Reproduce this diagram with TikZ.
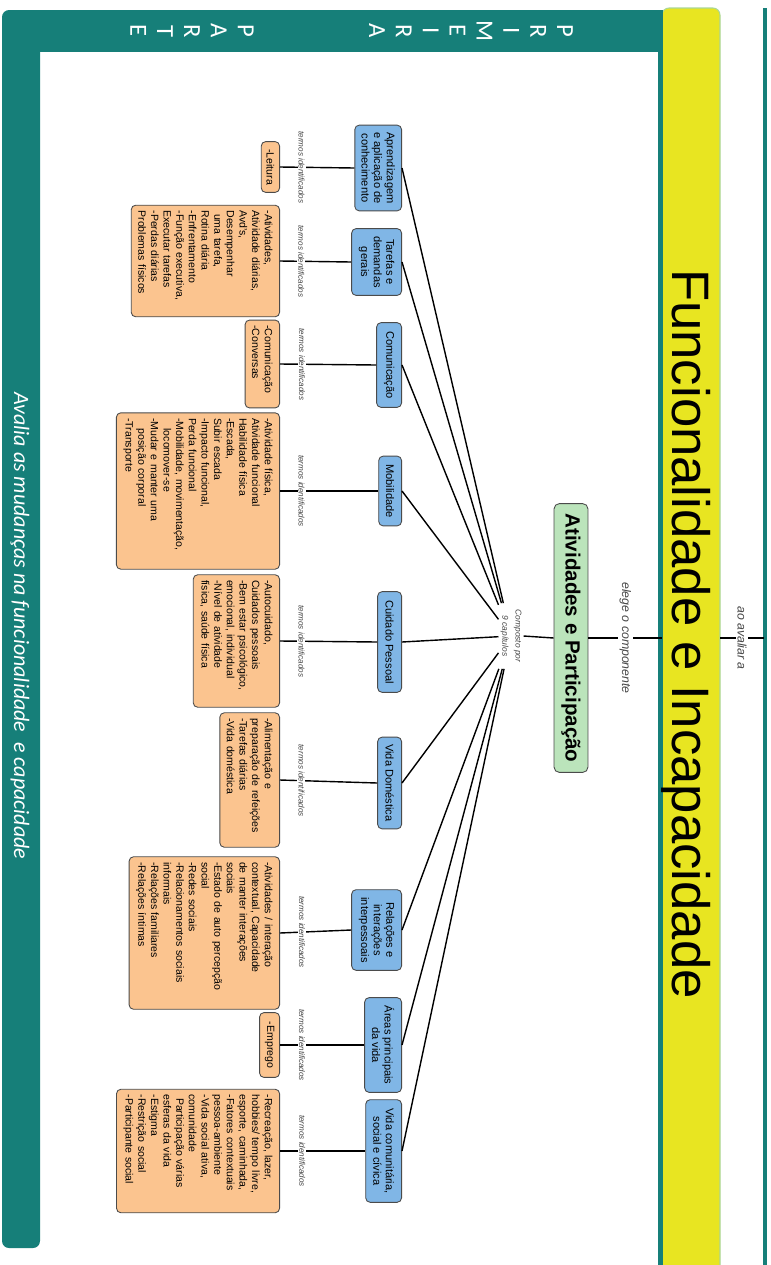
\documentclass[tikz,border=0pt]{standalone}
\usepackage{fontspec}
\setmainfont{Liberation Sans}
\newfontfamily\slidefont{Carlito}
\usepackage{tikz}
\definecolor{frameteal}{RGB}{22,127,121}
\definecolor{titleyellow}{RGB}{232,229,33}
\definecolor{titleedge}{RGB}{170,215,150}
\definecolor{catblue}{RGB}{128,182,230}
\definecolor{detorange}{RGB}{251,196,143}
\definecolor{maingreen}{RGB}{187,228,187}
\definecolor{boxedge}{RGB}{75,75,75}
\definecolor{lblgray}{RGB}{70,70,70}
\tikzset{
  conn/.style={line width=0.8pt,black},
  catbox/.style={draw=boxedge,fill=catblue,line width=0.5pt,rounded corners=2.5pt,
    align=center,anchor=north,inner sep=1.5pt,font=\fontsize{6.3}{7.2}\selectfont},
  detbox/.style={draw=boxedge,fill=detorange,line width=0.5pt,rounded corners=2.5pt,
    align=left,anchor=north,inner xsep=3pt,inner ysep=4pt,
    font=\fontsize{6}{7.2}\selectfont},
  mainbox/.style={draw=boxedge,fill=maingreen,line width=0.5pt,rounded corners=3pt,
    minimum width=153pt,minimum height=19.3pt,
    font=\fontsize{11.7}{14}\selectfont\bfseries},
  termlbl/.style={fill=white,inner sep=0.6pt,text=lblgray,
    font=\fontsize{4.6}{5.5}\selectfont\itshape},
  complbl/.style={align=center,inner sep=1pt,minimum width=37pt,text=lblgray,
    font=\fontsize{4.8}{7.5}\selectfont\itshape},
  linklbl/.style={fill=white,inner sep=1pt,text=lblgray,
    font=\fontsize{7}{8}\selectfont\itshape},
  titletext/.style={inner sep=0pt,font=\fontsize{30}{36}\selectfont},
  partlbl/.style={text=white,align=center,inner sep=0pt,
    font=\slidefont\fontsize{14}{15.3}\selectfont},
  avallbl/.style={text=white,inner sep=0pt,font=\slidefont\itshape\fontsize{12.5}{15}\selectfont},
}
\begin{document}
\begin{tikzpicture}[x=0.02cm,y=0.02cm,rotate=-90,transform shape]
  \useasboundingbox (0,0) rectangle (1265,771);
  % moldura
  \fill[frameteal,rounded corners=4pt] (10,2) rectangle (1248,40);
  \fill[frameteal] (10,20) rectangle (52,662);
  \filldraw[fill=titleyellow,draw=titleedge,line width=0.6pt,rounded corners=4pt]
    (1265,662) -- (8,662) -- (8,720) -- (1265,720);
  \fill[frameteal] (10,658) rectangle (1265,663);
  \fill[frameteal] (8,763) rectangle (1265,767);
  \node[partlbl] (prim) at (31,471) {P\\R\\I\\M\\E\\I\\R\\A};
  \node[partlbl] (parte) at (31,192) {P\\A\\R\\T\\E};
  \node[avallbl] (avalia) at (626,20) {Avalia as mudanças na funcionalidade\ \ e capacidade};
  \node[titletext,anchor=base] (title) at (634,672) {Funcionalidade e Incapacidade};
  \coordinate (ylwlow) at (638,662);
  \coordinate (ylwhigh) at (638,720);
  \coordinate (rim) at (638,764);

  \node[mainbox] (ativ) at (638,571) {Atividades e Participação};
  \node[complbl] (comp) at (636,511) {Composto por\\9 capítulos};

  \node[catbox,minimum width=48.8pt,minimum height=26.6pt] (cat1) at (168,402)
    {Aprendizagem\\e aplicação de\\conhecimento};
  \node[catbox,minimum width=38pt,minimum height=28.4pt] (cat2) at (262,402)
    {Tarefas e\\demandas\\gerais};
  \node[catbox,minimum width=48.2pt,minimum height=14.2pt] (cat3) at (365,402) {Comunicação};
  \node[catbox,minimum width=39.7pt,minimum height=13pt] (cat4) at (491,402) {Mobilidade};
  \node[catbox,minimum width=57.3pt,minimum height=13.6pt] (cat5) at (642,402) {Cuidado Pessoal};
  \node[catbox,minimum width=52.2pt,minimum height=13.6pt] (cat6) at (783,402) {Vida Doméstica};
  \node[catbox,minimum width=45.9pt,minimum height=28.4pt] (cat7) at (930,402)
    {Relações e\\interações\\interpessoais};
  \node[catbox,minimum width=53.9pt,minimum height=21pt] (cat8) at (1045,402)
    {Áreas principais\\da vida};
  \node[catbox,minimum width=58.4pt,minimum height=20.4pt] (cat9) at (1151,402)
    {Vida comunitária,\\social e cívica};

  \node[detbox,text width=22.9pt,align=center,inner ysep=3pt] (det1) at (167,280) {-Leitura};
  \node[detbox,text width=57.5pt] (det2) at (261,280)
    {-Atividades,\\Atividade diárias,\\Avd's,\\Desempenhar\\\hspace*{2pt}uma tarefa,\\
     Rotina diária\\-Enfrentamento\\-Função executiva,\\Executar tarefas\\-Perdas diárias\\
     Problemas físicos};
  \node[detbox,text width=44pt] (det3) at (364,280) {-Comunicação\\-Conversas};
  \node[detbox,text width=83pt] (det4) at (491,280)
    {-Atividade física,\\Atividade funcional\\Habilidade física\\-Escada,\\Subir escada\\
     -Impacto funcional,\\Perda funcional\\-Mobilidade, movimentação,\\
     \hspace*{6pt}locomover-se\\-Mudar e manter uma\\\hspace*{6pt}posição corporal\\-Transporte};
  \node[detbox,text width=69.4pt] (det5) at (641,280)
    {-Autocuidado,\\Cuidados pessoais\\-Bem estar psicológico,\\emocional, individual\\
     -Nível de atividade\\física, saúde física};
  \node[detbox,text width=70.5pt] (det6) at (780,280)
    {-Alimentação e\\preparação de refeições\\-Tarefas diárias\\-Vida doméstica};
  \node[detbox,text width=80.8pt] (det7) at (933,280)
    {-Atividades / interação\\contextual, Capacidade\\de manter interações\\sociais\\
     -Estado de auto percepção\\social\\-Redes sociais\\-Relacionamentos sociais\\
     informais\\-Relações familiares\\-Relações íntimas};
  \node[detbox,text width=30.9pt,align=center,inner ysep=3pt] (det8) at (1045,280) {-Emprego};
  \node[detbox,text width=64.3pt] (det9) at (1151,280)
    {-Recreação, lazer,\\hobbies/ tempo livre,\\esporte, caminhada,\\-Fatores contextuais\\
     pessoa-ambiente\\-Vida social ativa,\\comunidade\\\hspace*{2pt}Participação várias\\
     esferas da vida\\-Estigma\\-Restrição social\\-Participante social};

  \foreach \i/\p in {1/0.29,2/0.30,3/0.23,4/0.22,5/0.22,6/0.22,7/0.31,8/0.26,9/0.26} {
    \draw[conn] (cat\i.north) -- (comp);
    \draw[conn] (det\i.north) -- node[termlbl,pos=\p] (tid\i) {termos identificados}
      (cat\i.south);
  }
  \draw[conn] (comp.north) -- (ativ.south);
  \draw[conn] (ativ.north) -- node[linklbl] (elege) {elege o componente} (ylwlow);
  \draw[conn] (ylwhigh) -- node[linklbl] (avaliar) {ao avaliar a} (rim);
\end{tikzpicture}
\end{document}
